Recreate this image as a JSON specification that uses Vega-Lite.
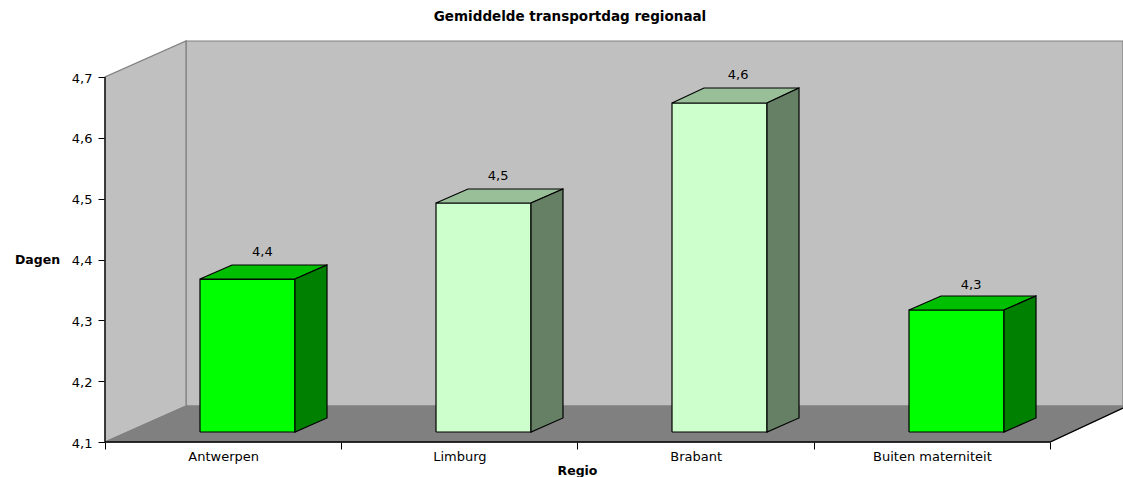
{
"$schema":"https://vega.github.io/schema/vega-lite/v6.json",
"width":1018,"height":401,
"autosize":"none",
"padding":{"left":105,"top":41,"right":0,"bottom":35},
"background":"white",
"title":{"text":"Gemiddelde transportdag regionaal","anchor":"middle","frame":"group","dx":-44,"offset":15,"font":"DejaVu Sans","fontSize":13.5,"fontWeight":"bold","color":"black"},
"config":{"view":{"stroke":null}},
"datasets":{
"wanden":[
{"vlak":"achterwand","n":1,"x":0.3429,"y":4.1592},{"vlak":"achterwand","n":2,"x":0.3429,"y":4.7592},{"vlak":"achterwand","n":3,"x":4.309,"y":4.7592},{"vlak":"achterwand","n":4,"x":4.309,"y":4.1592},{"vlak":"achterwand","n":5,"x":0.3429,"y":4.1592},
{"vlak":"zijwand","n":1,"x":0,"y":4.1},{"vlak":"zijwand","n":2,"x":0,"y":4.7},{"vlak":"zijwand","n":3,"x":0.3429,"y":4.7592},{"vlak":"zijwand","n":4,"x":0.3429,"y":4.1592},{"vlak":"zijwand","n":5,"x":0,"y":4.1},
{"vlak":"vloer","n":1,"x":0,"y":4.1},{"vlak":"vloer","n":2,"x":0.3429,"y":4.1592},{"vlak":"vloer","n":3,"x":4.309,"y":4.1592},{"vlak":"vloer","n":4,"x":4.309,"y":4.1559},{"vlak":"vloer","n":5,"x":4,"y":4.1},{"vlak":"vloer","n":6,"x":0,"y":4.1}
],
"assen":[
{"as":"y","n":1,"x":0,"y":4.1},{"as":"y","n":2,"x":0,"y":4.7},
{"as":"x","n":1,"x":0,"y":4.1},{"as":"x","n":2,"x":4,"y":4.1},{"as":"x","n":3,"x":4.309,"y":4.1559}
],
"vlakken":[
{"regio":"Antwerpen","vlak":"groen voor","n":1,"x":0.4021,"y":4.1164},{"regio":"Antwerpen","vlak":"groen voor","n":2,"x":0.4021,"y":4.3679},{"regio":"Antwerpen","vlak":"groen voor","n":3,"x":0.8042,"y":4.3679},{"regio":"Antwerpen","vlak":"groen voor","n":4,"x":0.8042,"y":4.1164},{"regio":"Antwerpen","vlak":"groen voor","n":5,"x":0.4021,"y":4.1164},
{"regio":"Antwerpen","vlak":"groen boven","n":1,"x":0.4021,"y":4.3679},{"regio":"Antwerpen","vlak":"groen boven","n":2,"x":0.5376,"y":4.391},{"regio":"Antwerpen","vlak":"groen boven","n":3,"x":0.9397,"y":4.391},{"regio":"Antwerpen","vlak":"groen boven","n":4,"x":0.8042,"y":4.3679},{"regio":"Antwerpen","vlak":"groen boven","n":5,"x":0.4021,"y":4.3679},
{"regio":"Antwerpen","vlak":"groen zij","n":1,"x":0.8042,"y":4.3679},{"regio":"Antwerpen","vlak":"groen zij","n":2,"x":0.9397,"y":4.391},{"regio":"Antwerpen","vlak":"groen zij","n":3,"x":0.9397,"y":4.1395},{"regio":"Antwerpen","vlak":"groen zij","n":4,"x":0.8042,"y":4.1164},{"regio":"Antwerpen","vlak":"groen zij","n":5,"x":0.8042,"y":4.3679},
{"regio":"Limburg","vlak":"licht voor","n":1,"x":1.4011,"y":4.1164},{"regio":"Limburg","vlak":"licht voor","n":2,"x":1.4011,"y":4.4929},{"regio":"Limburg","vlak":"licht voor","n":3,"x":1.8032,"y":4.4929},{"regio":"Limburg","vlak":"licht voor","n":4,"x":1.8032,"y":4.1164},{"regio":"Limburg","vlak":"licht voor","n":5,"x":1.4011,"y":4.1164},
{"regio":"Limburg","vlak":"licht boven","n":1,"x":1.4011,"y":4.4929},{"regio":"Limburg","vlak":"licht boven","n":2,"x":1.5365,"y":4.5159},{"regio":"Limburg","vlak":"licht boven","n":3,"x":1.9386,"y":4.5159},{"regio":"Limburg","vlak":"licht boven","n":4,"x":1.8032,"y":4.4929},{"regio":"Limburg","vlak":"licht boven","n":5,"x":1.4011,"y":4.4929},
{"regio":"Limburg","vlak":"licht zij","n":1,"x":1.8032,"y":4.4929},{"regio":"Limburg","vlak":"licht zij","n":2,"x":1.9386,"y":4.5159},{"regio":"Limburg","vlak":"licht zij","n":3,"x":1.9386,"y":4.1395},{"regio":"Limburg","vlak":"licht zij","n":4,"x":1.8032,"y":4.1164},{"regio":"Limburg","vlak":"licht zij","n":5,"x":1.8032,"y":4.4929},
{"regio":"Brabant","vlak":"licht voor","n":1,"x":2.4,"y":4.1164},{"regio":"Brabant","vlak":"licht voor","n":2,"x":2.4,"y":4.6573},{"regio":"Brabant","vlak":"licht voor","n":3,"x":2.8021,"y":4.6573},{"regio":"Brabant","vlak":"licht voor","n":4,"x":2.8021,"y":4.1164},{"regio":"Brabant","vlak":"licht voor","n":5,"x":2.4,"y":4.1164},
{"regio":"Brabant","vlak":"licht boven","n":1,"x":2.4,"y":4.6573},{"regio":"Brabant","vlak":"licht boven","n":2,"x":2.5354,"y":4.6819},{"regio":"Brabant","vlak":"licht boven","n":3,"x":2.9376,"y":4.6819},{"regio":"Brabant","vlak":"licht boven","n":4,"x":2.8021,"y":4.6573},{"regio":"Brabant","vlak":"licht boven","n":5,"x":2.4,"y":4.6573},
{"regio":"Brabant","vlak":"licht zij","n":1,"x":2.8021,"y":4.6573},{"regio":"Brabant","vlak":"licht zij","n":2,"x":2.9376,"y":4.6819},{"regio":"Brabant","vlak":"licht zij","n":3,"x":2.9376,"y":4.1395},{"regio":"Brabant","vlak":"licht zij","n":4,"x":2.8021,"y":4.1164},{"regio":"Brabant","vlak":"licht zij","n":5,"x":2.8021,"y":4.6573},
{"regio":"Buiten materniteit","vlak":"groen voor","n":1,"x":3.4032,"y":4.1164},{"regio":"Buiten materniteit","vlak":"groen voor","n":2,"x":3.4032,"y":4.317},{"regio":"Buiten materniteit","vlak":"groen voor","n":3,"x":3.8053,"y":4.317},{"regio":"Buiten materniteit","vlak":"groen voor","n":4,"x":3.8053,"y":4.1164},{"regio":"Buiten materniteit","vlak":"groen voor","n":5,"x":3.4032,"y":4.1164},
{"regio":"Buiten materniteit","vlak":"groen boven","n":1,"x":3.4032,"y":4.317},{"regio":"Buiten materniteit","vlak":"groen boven","n":2,"x":3.5386,"y":4.34},{"regio":"Buiten materniteit","vlak":"groen boven","n":3,"x":3.9408,"y":4.34},{"regio":"Buiten materniteit","vlak":"groen boven","n":4,"x":3.8053,"y":4.317},{"regio":"Buiten materniteit","vlak":"groen boven","n":5,"x":3.4032,"y":4.317},
{"regio":"Buiten materniteit","vlak":"groen zij","n":1,"x":3.8053,"y":4.317},{"regio":"Buiten materniteit","vlak":"groen zij","n":2,"x":3.9408,"y":4.34},{"regio":"Buiten materniteit","vlak":"groen zij","n":3,"x":3.9408,"y":4.1395},{"regio":"Buiten materniteit","vlak":"groen zij","n":4,"x":3.8053,"y":4.1164},{"regio":"Buiten materniteit","vlak":"groen zij","n":5,"x":3.8053,"y":4.317}
],
"labels":[
{"regio":"Antwerpen","label":"4,4","x":0.666,"y":4.412},
{"regio":"Limburg","label":"4,5","x":1.664,"y":4.537},
{"regio":"Brabant","label":"4,6","x":2.68,"y":4.704},
{"regio":"Buiten materniteit","label":"4,3","x":3.666,"y":4.358}
]
},
"encoding":{
"x":{"field":"x","type":"quantitative","scale":{"domain":[0,4.309],"nice":false,"zero":false},
"axis":{"values":[0,0.5,1,1.5,2,2.5,3,3.5,4],"domain":false,"grid":false,"tickColor":"black","tickSize":7,"tickWidth":1,
"tickOpacity":{"condition":{"test":"datum.value % 1 === 0","value":1},"value":0},
"labelExpr":"datum.value===0.5?'Antwerpen':datum.value===1.5?'Limburg':datum.value===2.5?'Brabant':datum.value===3.5?'Buiten materniteit':''",
"labelFont":"DejaVu Sans","labelFontSize":13,"labelColor":"black","labelPadding":1,"labelOverlap":false,"labelBound":false,"labelFlush":false,
"title":"Regio","titleFont":"DejaVu Sans","titleFontSize":12.5,"titleFontWeight":"bold","titleColor":"black","titleX":472,"titleY":28,"titleBaseline":"middle","titleAnchor":"middle","titleAlign":"center"}},
"y":{"field":"y","type":"quantitative","scale":{"domain":[4.1,4.7592],"nice":false,"zero":false},
"axis":{"values":[4.1,4.2,4.3,4.4,4.5,4.6,4.7],"domain":false,"grid":false,"tickColor":"black","tickSize":7,"tickWidth":1,
"labelExpr":"replace(format(datum.value,'.1f'),'.',',')",
"labelFont":"DejaVu Sans","labelFontSize":13,"labelColor":"black","labelPadding":6,"labelOffset":1,"labelOverlap":false,"labelBound":false,"labelFlush":false,
"title":"Dagen","titleFont":"DejaVu Sans","titleFontSize":12.5,"titleFontWeight":"bold","titleColor":"black","titleAngle":0,"titleX":-68,"titleY":218,"titleAlign":"center","titleBaseline":"middle"}}
},
"layer":[
{"data":{"name":"wanden"},"mark":{"type":"line","stroke":"#808080","strokeWidth":1.2,"interpolate":"linear"},
 "encoding":{"order":{"field":"n","type":"ordinal"},"fill":{"field":"vlak","type":"nominal","legend":null,"scale":{"domain":["achterwand","zijwand","vloer"],"range":["#c0c0c0","#c0c0c0","#808080"]}}}},
{"data":{"name":"assen"},"mark":{"type":"line","stroke":"black","strokeWidth":1.3},
 "encoding":{"order":{"field":"n","type":"ordinal"},"detail":{"field":"as","type":"nominal"}}},
{"data":{"name":"vlakken"},"mark":{"type":"line","stroke":"black","strokeWidth":1.2,"strokeJoin":"miter"},
 "encoding":{"order":{"field":"n","type":"ordinal"},"detail":{"field":"regio","type":"nominal"},"stroke":{"value":"black"},"fill":{"field":"vlak","type":"nominal","legend":null,"scale":{"domain":["groen voor","groen boven","groen zij","licht voor","licht boven","licht zij"],"range":["#00ff00","#00bf00","#008000","#ccffcc","#99bf99","#668066"]}}}},
{"data":{"name":"labels"},"mark":{"type":"text","font":"DejaVu Sans","fontSize":13,"color":"black","baseline":"middle","align":"center"},
 "encoding":{"text":{"field":"label","type":"nominal"}}}
],
"resolve":{"scale":{"fill":"independent"}}
}
